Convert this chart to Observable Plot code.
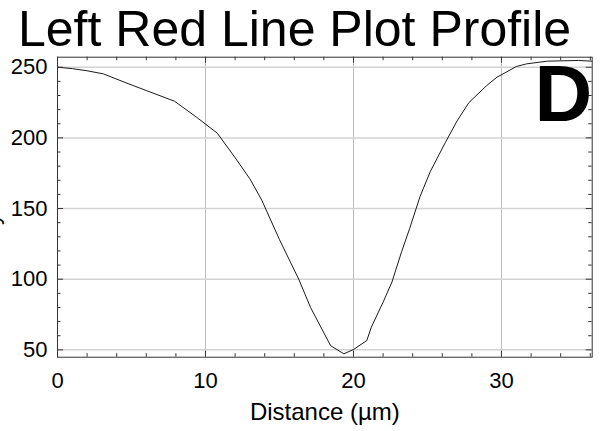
<!DOCTYPE html>
<html><head><meta charset="utf-8">
<script src="https://cdn.jsdelivr.net/npm/d3@7"></script>
<script src="https://cdn.jsdelivr.net/npm/@observablehq/plot@0.6"></script>
<style>
body{margin:0;background:#fff;font-family:"Liberation Sans",Arial,sans-serif;}
#wrap{position:relative;width:602px;height:431px;overflow:hidden;background:#fff;}
#title{position:absolute;left:18px;top:9.4px;font-size:50px;line-height:40px;white-space:nowrap;color:#000;}
#chart{position:absolute;left:0;top:0;}
</style></head><body>
<div id="wrap"><div id="chart"></div><div id="title">Left Red Line Plot Profile</div></div>
<script>
const distance  = [0, 1, 2, 3.1, 4.5, 6, 7.9, 9.4, 10.8, 12, 13, 13.8, 15, 16.3, 17.1, 18.45, 19.35, 20.0, 20.9, 21.2, 22.0, 22.6, 23.25, 23.8, 24.5, 25.2, 26.2, 27.0, 27.8, 29.0, 29.7, 30.3, 31.0, 31.7, 33.1, 35.2, 36.1];
const grayValue = [250, 249, 247.5, 245.3, 239.5, 233.5, 226, 214.6, 203.3, 186, 171, 156, 128, 100, 80, 53, 47.2, 50.2, 56.6, 65.9, 83.7, 98, 119.4, 136, 158.6, 176.4, 196.6, 212, 225, 237, 243, 246.4, 250.5, 252.4, 254.3, 254.8, 254.3];
const xMajorTicks = [0, 10, 20, 30];
const xMinorTicks = [2, 4, 6, 8, 12, 14, 16, 18, 22, 24, 26, 28, 32, 34, 36];
const yMajorTicks = [50, 100, 150, 200, 250];
const yMinorTicks = [60, 70, 80, 90, 110, 120, 130, 140, 160, 170, 180, 190, 210, 220, 230, 240];
const xLabel = "Distance (µm)";
const yLabel = "Gray Value";
const panelLetter = "D";

const data = distance.map((d, i) => ({distance: d, value: grayValue[i]}));
const W = 602, H = 431, mT = 56.7, mB = 74.3, mL = 57, mR = 10.3;
const fH = H - mT - mB, fW = W - mL - mR;
const tickColor = "#333";
const majorLen = 6, minorLen = 3.5;

const chart = Plot.plot({
  width: W, height: H,
  marginTop: mT, marginBottom: mB, marginLeft: mL, marginRight: mR,
  x: {domain: [0, 36.13]},
  y: {domain: [44.8, 257.1]},
  style: {fontFamily: "'Liberation Sans', Arial, sans-serif", fontSize: "22px", color: "#000", background: "#fff"},
  marks: [
    Plot.gridX(xMajorTicks.filter(d => d > 0), {stroke: "#bdbdbd", strokeOpacity: 1, strokeWidth: 1}),
    Plot.gridY(yMajorTicks, {stroke: "#d2d2d2", strokeOpacity: 1, strokeWidth: 1.5}),
    Plot.line(data, {x: "distance", y: "value", stroke: "#1a1a1a", strokeWidth: 1}),
    Plot.tickX(xMajorTicks, {x: d => d, insetTop: fH - majorLen, stroke: tickColor}),
    Plot.tickX(xMajorTicks, {x: d => d, insetBottom: fH - majorLen, stroke: tickColor}),
    Plot.tickX(xMinorTicks, {x: d => d, insetTop: fH - minorLen, stroke: tickColor}),
    Plot.tickX(xMinorTicks, {x: d => d, insetBottom: fH - minorLen, stroke: tickColor}),
    Plot.tickY(yMajorTicks, {y: d => d, insetRight: fW - majorLen, stroke: tickColor}),
    Plot.tickY(yMajorTicks, {y: d => d, insetLeft: fW - majorLen, stroke: tickColor}),
    Plot.tickY(yMinorTicks, {y: d => d, insetRight: fW - minorLen, stroke: tickColor}),
    Plot.tickY(yMinorTicks, {y: d => d, insetLeft: fW - minorLen, stroke: tickColor}),
    Plot.frame({stroke: tickColor, strokeWidth: 1}),
    Plot.axisX(xMajorTicks, {tickSize: 0, tickPadding: 15.4, fontSize: 22, label: null}),
    Plot.axisY(yMajorTicks, {tickSize: 0, tickPadding: 10, fontSize: 22, label: null}),
    Plot.text([xLabel], {frameAnchor: "bottom", lineAnchor: "bottom", dy: 63, fontSize: 24, text: d => d, fill: "#000"}),
    Plot.text([panelLetter], {frameAnchor: "top-right", textAnchor: "end", lineAnchor: "top", dx: 0, dy: 6.5, fontSize: 80, fontWeight: "bold", text: d => d, fill: "#000"})
  ]
});
// y-axis title: cropped at the left edge as in the reference (only the descender shows)
d3.select(chart).append("text")
  .attr("transform", `translate(-1.2,${mT + fH / 2}) rotate(-90)`)
  .attr("text-anchor", "middle")
  .attr("font-size", 23)
  .attr("fill", "#000")
  .text(yLabel);
document.getElementById("chart").appendChild(chart);
</script>
</body></html>
